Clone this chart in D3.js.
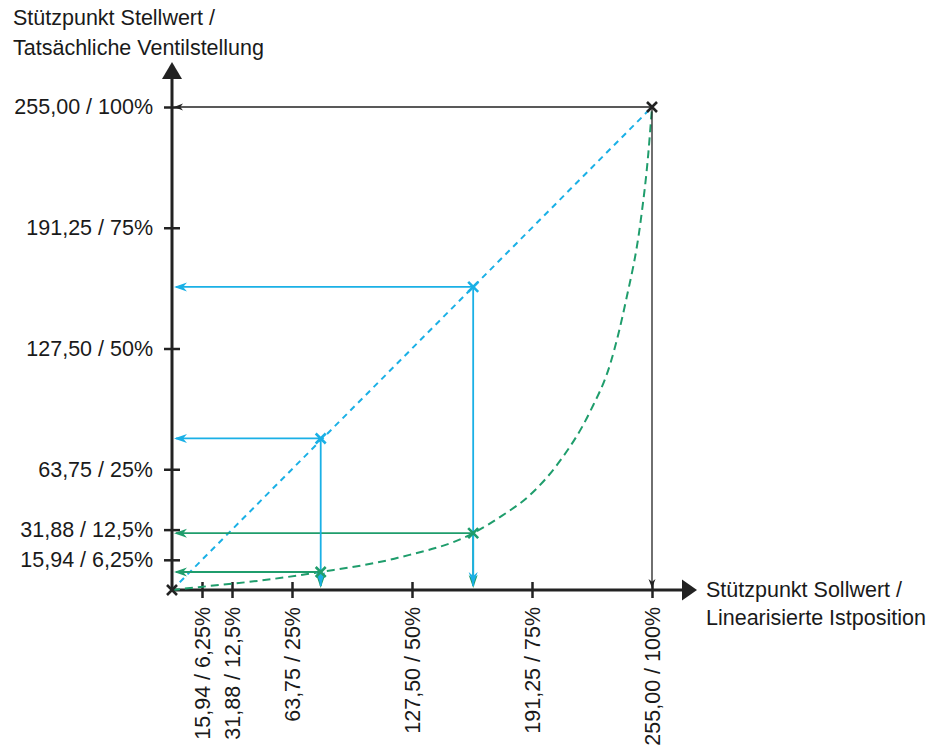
<!DOCTYPE html>
<html>
<head>
<meta charset="utf-8">
<script src="https://cdn.jsdelivr.net/npm/d3@7"></script>
<style>
  body { margin: 0; background: #fff; }
  text { font-family: "Liberation Sans", Arial, sans-serif; fill: #1a1a1a; }
</style>
</head>
<body>
<div id="chart"></div>
<script>
// tick values shared by both axes
var tickValues = [15.94, 31.88, 63.75, 127.5, 191.25, 255];
var tickLabels = ["15,94 / 6,25%", "31,88 / 12,5%", "63,75 / 25%", "127,50 / 50%", "191,25 / 75%", "255,00 / 100%"];

// linear characteristic (blue)
var linearX = [0, 255];
var linearY = [0, 255];
var bluePointsX = [79, 160];
var bluePointsY = [80, 160];

// real valve characteristic (green)
var curveX = [0, 15, 47, 79, 120, 160, 175, 190, 206, 222, 233, 241, 249, 253, 255];
var curveY = [0, 1.6, 5, 9.5, 17, 30, 39, 50, 68, 94, 120, 152, 195, 230, 255];
var greenPointsX = [79, 160];
var greenPointsY = [9.5, 30];

// end point (black)
var endX = [0, 255];
var endY = [0, 255];

var blue = "#1ab0e6", green = "#1f9d6c", dark = "#222";
var fontSize = "21.5px";

var width = 927, height = 751;

var x = d3.scaleLinear().domain([0, 255]).range([172, 652]);
var y = d3.scaleLinear().domain([0, 255]).range([590, 107]);

var svg = d3.select("#chart").append("svg")
    .attr("width", width)
    .attr("height", height);

// arrowhead path pointing in direction ang (radians), tip at (px,py)
function arrowHead(px, py, ang, len, w) {
    var c = Math.cos(ang), s = Math.sin(ang);
    function p(a, b) { return [px + a * c - b * s, py + a * s + b * c]; }
    var pts = [p(0, 0), p(-len, -w), p(-len * 0.7, 0), p(-len, w)];
    return "M" + pts.map(function(d) { return d.join(","); }).join("L") + "Z";
}

function cross(g, cx, cy, r, col) {
    g.append("path")
        .attr("d", "M" + (cx - r) + "," + (cy - r) + "L" + (cx + r) + "," + (cy + r) +
                   "M" + (cx - r) + "," + (cy + r) + "L" + (cx + r) + "," + (cy - r))
        .attr("stroke", col)
        .attr("stroke-width", 2.6)
        .attr("fill", "none");
}

// y axis ticks + labels
var yAxis = svg.append("g")
    .attr("transform", "translate(" + x(0) + ",0)")
    .call(d3.axisLeft(y).tickValues(tickValues)
        .tickFormat(function(d, i) { return tickLabels[i]; })
        .tickSize(8));
yAxis.select(".domain").remove();
yAxis.selectAll(".tick line").attr("x1", -8).attr("x2", 8)
    .attr("stroke", dark).attr("stroke-width", 2.5);
yAxis.selectAll(".tick text").attr("x", -19)
    .style("font-size", fontSize).style("font-family", "Liberation Sans, Arial, sans-serif")
    .attr("fill", "#1a1a1a");

// x axis ticks + rotated labels
var xAxis = svg.append("g")
    .attr("transform", "translate(0," + y(0) + ")")
    .call(d3.axisBottom(x).tickValues(tickValues)
        .tickFormat(function(d, i) { return tickLabels[i]; })
        .tickSize(8));
xAxis.select(".domain").remove();
xAxis.selectAll(".tick line").attr("y1", -8).attr("y2", 8)
    .attr("stroke", dark).attr("stroke-width", 2.5);
xAxis.selectAll(".tick text")
    .attr("x", 0).attr("y", 0)
    .attr("dy", "0.35em")
    .attr("transform", "translate(0,17) rotate(-90)")
    .style("text-anchor", "end")
    .style("font-size", fontSize).style("font-family", "Liberation Sans, Arial, sans-serif")
    .attr("fill", "#1a1a1a");

// axis lines with big arrowheads
svg.append("line")
    .attr("x1", x(0)).attr("y1", y(0) + 1)
    .attr("x2", x(0)).attr("y2", 78)
    .attr("stroke", dark).attr("stroke-width", 3);
svg.append("path")
    .attr("d", "M" + (x(0) - 10) + ",79L" + x(0) + ",62L" + (x(0) + 10) + ",79Z")
    .attr("fill", dark);
svg.append("line")
    .attr("x1", x(0) - 1).attr("y1", y(0))
    .attr("x2", 683).attr("y2", y(0))
    .attr("stroke", dark).attr("stroke-width", 3);
svg.append("path")
    .attr("d", "M682," + (y(0) - 10.5) + "L697," + y(0) + "L682," + (y(0) + 10.5) + "Z")
    .attr("fill", dark);

// dashed curves
var lineGen = d3.line()
    .x(function(d) { return x(d[0]); })
    .y(function(d) { return y(d[1]); });

svg.append("path")
    .datum(linearX.map(function(d, i) { return [d, linearY[i]]; }))
    .attr("d", lineGen)
    .attr("fill", "none")
    .attr("stroke", blue)
    .attr("stroke-width", 2)
    .attr("stroke-dasharray", "6,5");

svg.append("path")
    .datum(curveX.map(function(d, i) { return [d, curveY[i]]; }))
    .attr("d", lineGen.curve(d3.curveMonotoneX))
    .attr("fill", "none")
    .attr("stroke", green)
    .attr("stroke-width", 2)
    .attr("stroke-dasharray", "8,5");

// guide lines with arrows
function guides(g, px, py, col, sw, len, w) {
    // horizontal to y axis
    g.append("line")
        .attr("x1", x(px)).attr("y1", y(py))
        .attr("x2", x(0) + 4).attr("y2", y(py))
        .attr("stroke", col).attr("stroke-width", sw);
    g.append("path")
        .attr("d", arrowHead(x(0) + 2, y(py), Math.PI, len, w))
        .attr("fill", col);
    // vertical to x axis
    g.append("line")
        .attr("x1", x(px)).attr("y1", y(py))
        .attr("x2", x(px)).attr("y2", y(0) - 4)
        .attr("stroke", col).attr("stroke-width", sw);
    g.append("path")
        .attr("d", arrowHead(x(px), y(0) - 2, Math.PI / 2, len, w))
        .attr("fill", col);
}

var gGreen = svg.append("g");
greenPointsX.forEach(function(d, i) { guides(gGreen, d, greenPointsY[i], green, 1.8, 13, 4.5); });
var gBlue = svg.append("g");
bluePointsX.forEach(function(d, i) { guides(gBlue, d, bluePointsY[i], blue, 1.8, 13, 4.5); });
// blue arrow on x axis sits slightly above the green one
gBlue.selectAll("path").filter(function(d, i) { return i % 2 == 1; })
    .attr("transform", "translate(0,-3)");
var gEnd = svg.append("g");
guides(gEnd, endX[1], endY[1], dark, 1.3, 9, 3.5);

// point markers
greenPointsX.forEach(function(d, i) { cross(svg, x(d), y(greenPointsY[i]), 5, green); });
bluePointsX.forEach(function(d, i) { cross(svg, x(d), y(bluePointsY[i]), 5, blue); });
cross(svg, x(endX[1]), y(endY[1]), 5, dark);
cross(svg, x(endX[0]), y(endY[0]), 5, dark);

// axis titles
var yTitle = svg.append("text")
    .style("font-size", fontSize);
yTitle.append("tspan").attr("x", 13).attr("y", 25).text("Stützpunkt Stellwert /");
yTitle.append("tspan").attr("x", 13).attr("y", 55).text("Tatsächliche Ventilstellung");

var xTitle = svg.append("text")
    .style("font-size", fontSize);
xTitle.append("tspan").attr("x", 706).attr("y", 597).text("Stützpunkt Sollwert /");
xTitle.append("tspan").attr("x", 706).attr("y", 625).text("Linearisierte Istposition");
</script>
</body>
</html>
